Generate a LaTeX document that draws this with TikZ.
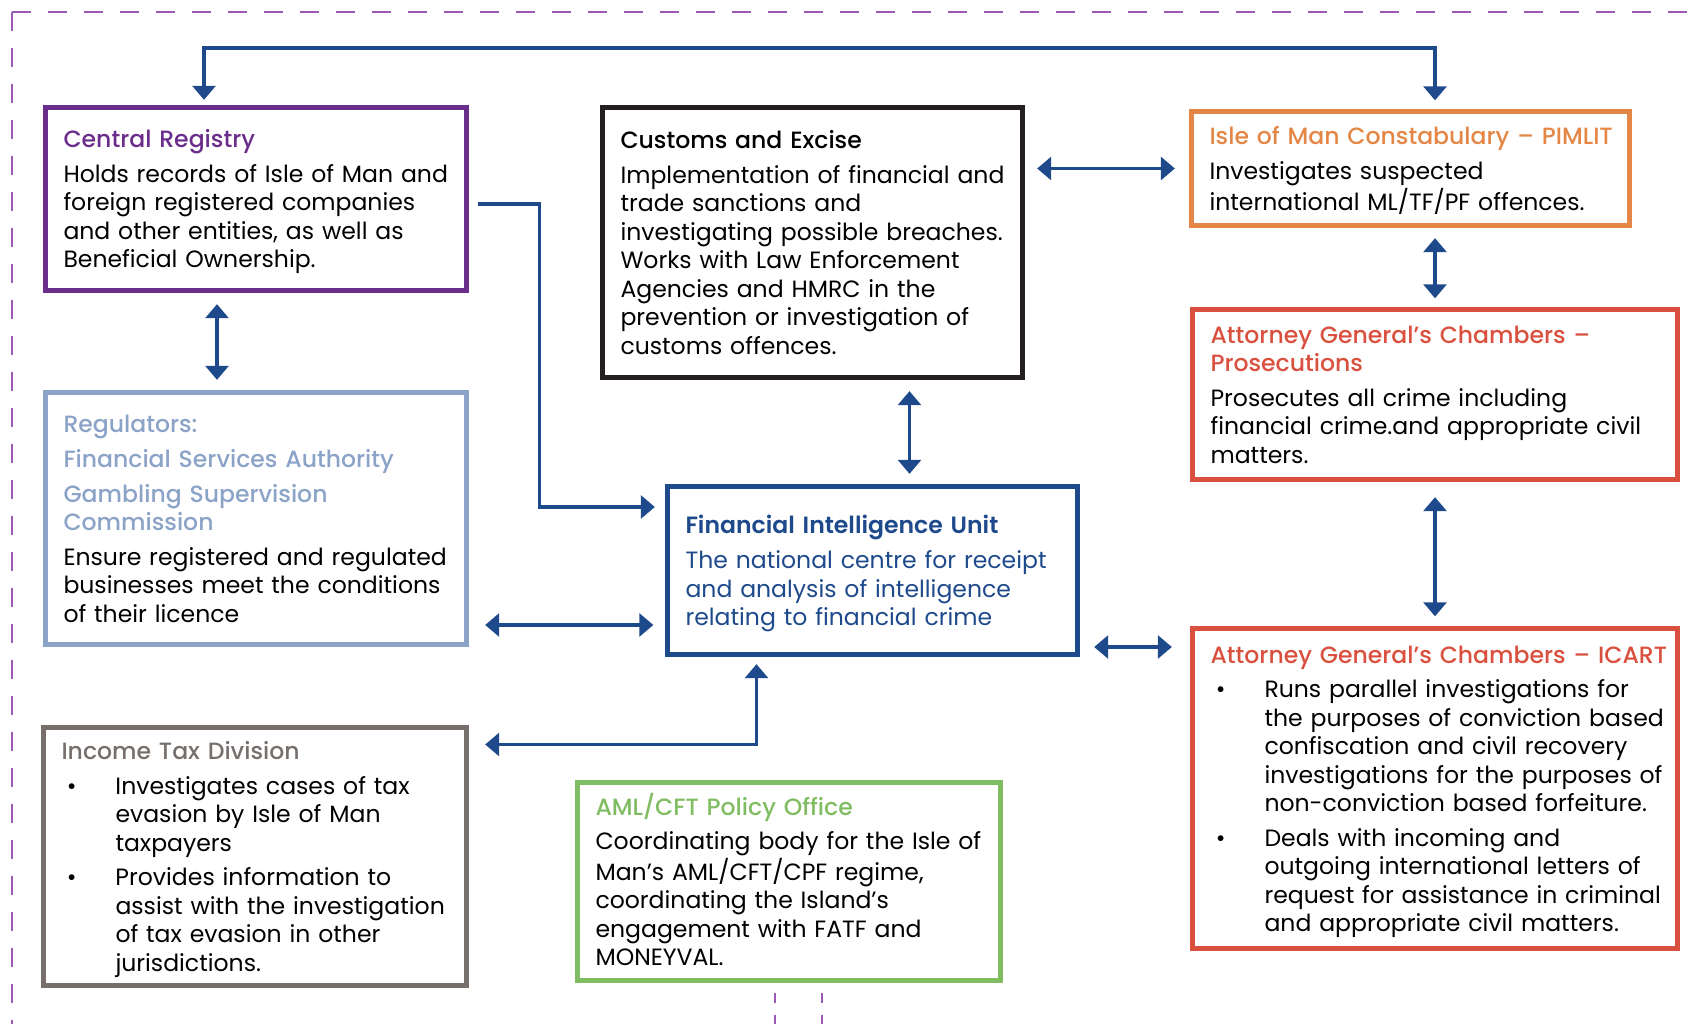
\documentclass[tikz,border=0pt]{standalone}
\usepackage{fontspec}
\setmainfont{Poppins}[WordSpace=0.7]
\newfontfamily\headfont{Poppins Medium}[WordSpace=0.7]
\newfontfamily\headbold{Poppins SemiBold}[WordSpace=0.7]
\usetikzlibrary{arrows.meta,calc}

\definecolor{linkblue}{RGB}{30,74,140}
\definecolor{crpurple}{RGB}{107,45,140}
\definecolor{custblack}{RGB}{35,31,32}
\definecolor{pimorange}{RGB}{228,135,70}
\definecolor{agred}{RGB}{218,80,62}
\definecolor{reglight}{RGB}{140,163,200}
\definecolor{itgrey}{RGB}{118,111,108}
\definecolor{amlgreen}{RGB}{128,189,98}
\definecolor{framepurple}{RGB}{155,89,182}

% lines of a box, broken by hand
\newcommand{\boxlines}[1]{\begin{tabular}{@{}l@{}}\rule{0pt}{15pt}#1\end{tabular}}
% bullet lines with hanging indent
\newcommand{\itembul}{\makebox[1.08cm][l]{\hspace{3pt}\textbullet}}
\newcommand{\itemind}{\hspace*{1.08cm}}

\begin{document}
\begin{tikzpicture}[
    font=\fontsize{13.4}{16.2}\selectfont,
    box/.style={draw, line width=3pt, rectangle, align=left, inner xsep=0.36cm, inner ysep=0pt},
    link/.style={draw=linkblue, line width=2.2pt, arrows={Triangle[width=13pt,length=8pt]-Triangle[width=13pt,length=8pt]}},
    linkto/.style={draw=linkblue, line width=2.2pt, arrows={-Triangle[width=13pt,length=8pt]}},
    frame/.style={draw=framepurple, line width=1.6pt, dash pattern=on 0.38cm off 0.34cm}
]
    \useasboundingbox (0,0) rectangle (34.04,20.48);

    % Outer dashed frame
    \draw[frame] (0.24,20.24) -- (34.04,20.24);
    \draw[frame] (0.24,20.24) -- (0.24,0);
    \draw[frame, dash pattern=on 0.2cm off 0.24cm] (15.5,0.62) -- (15.5,0);
    \draw[frame, dash pattern=on 0.2cm off 0.24cm] (16.44,0.62) -- (16.44,0);

    % Left column
    \node[box, draw=crpurple, text width=7.70cm, minimum height=3.66cm] (cr) at (5.12,16.5)
        {\boxlines{{\headfont\color{crpurple}Central Registry}\\[3.5pt]
         Holds records of Isle of Man and\\
         foreign registered companies\\
         and other entities, as well as\\
         Beneficial Ownership.}};
    \node[box, draw=reglight, text width=7.70cm, minimum height=5.04cm] (reg) at (5.12,10.11)
        {\boxlines{{\headfont\color{reglight}Regulators:}\\[3.5pt]
         {\headfont\color{reglight}Financial Services Authority}\\[3.5pt]
         {\headfont\color{reglight}Gambling Supervision}\\
         {\headfont\color{reglight}Commission}\\[3.5pt]
         Ensure registered and regulated\\
         businesses meet the conditions\\
         of their licence}};
    \node[box, draw=itgrey, text width=7.74cm, minimum height=5.16cm] (it) at (5.10,3.35)
        {\boxlines{{\headfont\color{itgrey}Income Tax Division}\\[3.5pt]
         \itembul Investigates cases of tax\\
         \itemind evasion by Isle of Man\\
         \itemind taxpayers\\[3.5pt]
         \itembul Provides information to\\
         \itemind assist with the investigation\\
         \itemind of tax evasion in other\\
         \itemind jurisdictions.}};

    % Middle column
    \node[box, draw=custblack, text width=7.68cm, minimum height=5.4cm] (cust) at (16.25,15.63)
        {\boxlines{{\headfont Customs and Excise}\\[3.5pt]
         Implementation of financial and\\
         trade sanctions and\\
         investigating possible breaches.\\
         Works with Law Enforcement\\
         Agencies and HMRC in the\\
         prevention or investigation of\\
         customs offences.}};
    \node[box, draw=linkblue, text width=7.48cm, minimum height=3.36cm] (fiu) at (17.45,9.07)
        {\boxlines{{\headbold\color{linkblue}Financial Intelligence Unit}\\[4pt]
         \color{linkblue}The national centre for receipt\\
         \color{linkblue}and analysis of intelligence\\
         \color{linkblue}relating to financial crime}};
    \node[box, draw=amlgreen, text width=7.74cm, minimum height=3.96cm] (aml) at (15.78,2.85)
        {\boxlines{{\headfont\color{amlgreen}AML/CFT Policy Office}\\[3.5pt]
         Coordinating body for the Isle of\\
         Man’s AML/CFT/CPF regime,\\
         coordinating the Island’s\\
         engagement with FATF and\\
         MONEYVAL.}};

    % Right column
    \node[box, draw=pimorange, text width=8.04cm, minimum height=2.28cm] (pim) at (28.21,17.11)
        {\boxlines{{\headfont\color{pimorange}Isle of Man Constabulary – PIMLIT}\\[3.5pt]
         Investigates suspected\\
         international ML/TF/PF offences.}};
    \node[box, draw=agred, text width=8.98cm, minimum height=3.4cm] (pros) at (28.7,12.59)
        {\boxlines{{\headfont\color{agred}Attorney General’s Chambers –}\\
         {\headfont\color{agred}Prosecutions}\\[3.5pt]
         Prosecutes all crime including\\
         financial crime.and appropriate civil\\
         matters.}};
    \node[box, draw=agred, text width=8.98cm, minimum height=6.4cm] (icart) at (28.7,4.71)
        {\boxlines{{\headfont\color{agred}Attorney General’s Chambers – ICART}\\[3.5pt]
         \itembul Runs parallel investigations for\\
         \itemind the purposes of conviction based\\
         \itemind confiscation and civil recovery\\
         \itemind investigations for the purposes of\\
         \itemind non-conviction based forfeiture.\\[3.5pt]
         \itembul Deals with incoming and\\
         \itemind outgoing international letters of\\
         \itemind request for assistance in criminal\\
         \itemind and appropriate civil matters.}};

    % Connectors
    \coordinate (topbar) at (28.7,19.52);
    \draw[link] ([xshift=-1.04cm,yshift=0.1cm]cr.north) |- (topbar) -- ([xshift=0.49cm,yshift=0.17cm]pim.north);
    \draw[link] ($(cust.east |- pim.west)+(0.24,0)$) -- ($(pim.west)+(-0.28,0)$);
    \draw[link] ($(pros.north |- pim.south)+(0,-0.2)$) -- ($(pros.north)+(0,0.17)$);
    \draw[link] ($(pros.south)+(0,-0.3)$) -- ($(icart.north)+(0,0.19)$);
    \draw[link] ($(cust.south)+(1.94,-0.22)$) -- ($(fiu.north)+(0.74,0.2)$);
    \draw[link] ($(cr.south)+(-0.78,-0.22)$) -- ($(reg.north)+(-0.78,0.2)$);

    \coordinate (crbend) at (10.79,10.34);
    \draw[linkto] ($(cr.east)+(0.17,-0.1)$) -| (crbend) -- ($(crbend -| fiu.west)+(-0.2,0)$);

    \coordinate (regfiu) at (0,7.98);
    \draw[link] ($(regfiu -| reg.east)+(0.32,0)$) -- ($(regfiu -| fiu.west)+(-0.23,0)$);

    \coordinate (fiuicart) at (0,7.54);
    \draw[link] ($(fiuicart -| fiu.east)+(0.28,0)$) -- ($(fiuicart -| icart.west)+(-0.36,0)$);

    \coordinate (itbend) at (15.13,5.59);
    \draw[link] ($(itbend -| it.east)+(0.32,0)$) -| ($(itbend |- fiu.south)+(0,-0.14)$);
\end{tikzpicture}
\end{document}
